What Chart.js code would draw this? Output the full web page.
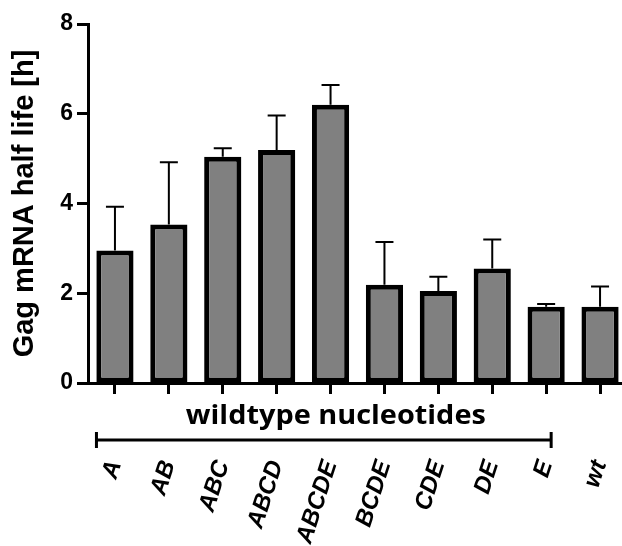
<!DOCTYPE html>
<html>
<head>
<meta charset="utf-8">
<script src="https://cdn.jsdelivr.net/npm/chart.js@4"></script>
<style>
  html, body { margin: 0; padding: 0; background: #fff; overflow: hidden; }
  #wrap { width: 628px; height: 546px; }
</style>
</head>
<body>
<div id="wrap"><canvas id="c"></canvas></div>
<script>
// Gag mRNA half life per construct (mean and upper error)
const categories = ['A', 'AB', 'ABC', 'ABCD', 'ABCDE', 'BCDE', 'CDE', 'DE', 'E', 'wt'];
const halfLife = [2.95, 3.53, 5.04, 5.19, 6.20, 2.19, 2.05, 2.55, 1.70, 1.70];
const errorUp = [0.98, 1.39, 0.19, 0.77, 0.44, 0.95, 0.32, 0.65, 0.06, 0.45];
const yTicks = [0, 2, 4, 6, 8];
const groupLabel = 'wildtype nucleotides';
const groupFirst = 0;   // index of first category under the bracket
const groupLast = 8;    // index of last category under the bracket

const errorBars = {
  id: 'errorBars',
  afterDatasetsDraw(chart) {
    const ctx = chart.ctx;
    const meta = chart.getDatasetMeta(0);
    const y = chart.scales.y;
    ctx.save();
    ctx.strokeStyle = '#000';
    ctx.lineWidth = 2;
    meta.data.forEach((bar, i) => {
      const top = y.getPixelForValue(halfLife[i] + errorUp[i]);
      const base = y.getPixelForValue(halfLife[i]);
      ctx.beginPath();
      ctx.moveTo(bar.x, base);
      ctx.lineTo(bar.x, top);
      ctx.moveTo(bar.x - 9, top);
      ctx.lineTo(bar.x + 9, top);
      ctx.stroke();
    });
    ctx.restore();
  }
};

const groupBracket = {
  id: 'groupBracket',
  afterDraw(chart) {
    const ctx = chart.ctx;
    const x = chart.scales.x;
    const x0 = x.getPixelForValue(groupFirst) - 18.5;
    const x1 = x.getPixelForValue(groupLast) + 5;
    const yLine = chart.chartArea.bottom + 57;
    ctx.save();
    ctx.strokeStyle = '#000';
    ctx.lineWidth = 3;
    ctx.beginPath();
    ctx.moveTo(x0, yLine);
    ctx.lineTo(x1, yLine);
    ctx.moveTo(x0, yLine - 8);
    ctx.lineTo(x0, yLine + 8);
    ctx.moveTo(x1, yLine - 8);
    ctx.lineTo(x1, yLine + 8);
    ctx.stroke();
    // group caption, set slightly wide
    ctx.fillStyle = '#000';
    ctx.font = 'bold 27px "Open Sans"';
    ctx.textAlign = 'center';
    ctx.textBaseline = 'alphabetic';
    const w = ctx.measureText(groupLabel).width;
    const sx = 300 / w;
    ctx.translate((x0 + x1) / 2 + 12, yLine - 16);
    ctx.scale(sx, 1);
    ctx.fillText(groupLabel, 0, 0);
    ctx.restore();
  }
};

new Chart(document.getElementById('c'), {
  type: 'bar',
  data: {
    labels: categories,
    datasets: [{
      data: halfLife,
      backgroundColor: '#808080',
      borderColor: '#000',
      borderWidth: 5,
      borderSkipped: false,
      barPercentage: 0.69,
      categoryPercentage: 1
    }]
  },
  options: {
    responsive: true,
    maintainAspectRatio: false,
    animation: false,
    events: [],
    layout: { padding: { top: 24, right: 1, left: 0, bottom: 0 } },
    plugins: { legend: { display: false }, tooltip: { enabled: false } },
    scales: {
      x: {
        afterFit(scale) {
          scale.height = 163;
          scale.paddingLeft = 0;
          scale.paddingRight = 0;
        },
        grid: {
          offset: false,
          drawOnChartArea: false,
          drawTicks: true,
          tickLength: 11,
          tickWidth: 3,
          tickColor: '#000'
        },
        border: { display: true, color: '#000', width: 3 },
        ticks: {
          autoSkip: false,
          minRotation: 72,
          maxRotation: 72,
          padding: 63,
          color: '#000',
          font: { family: 'Liberation Sans', size: 24, style: 'italic', weight: 'bold' }
        }
      },
      y: {
        min: 0,
        max: 8,
        afterFit(scale) {
          scale.width = 88;
          scale.paddingTop = 0;
          scale.paddingBottom = 0;
        },
        afterBuildTicks(scale) { scale.ticks = yTicks.map(v => ({ value: v })); },
        grid: {
          drawOnChartArea: false,
          drawTicks: true,
          tickLength: 11,
          tickWidth: 3,
          tickColor: '#000'
        },
        border: { display: true, color: '#000', width: 3 },
        ticks: {
          padding: 4,
          color: '#000',
          font: { family: 'Liberation Sans', size: 23, weight: 'bold' }
        },
        title: {
          display: true,
          text: 'Gag mRNA half life [h]',
          color: '#000',
          padding: { top: 8, bottom: 0 },
          font: { family: 'Liberation Sans', size: 29, weight: 'bold', lineHeight: 1.2 }
        }
      }
    }
  },
  plugins: [errorBars, groupBracket]
});
</script>
</body>
</html>
